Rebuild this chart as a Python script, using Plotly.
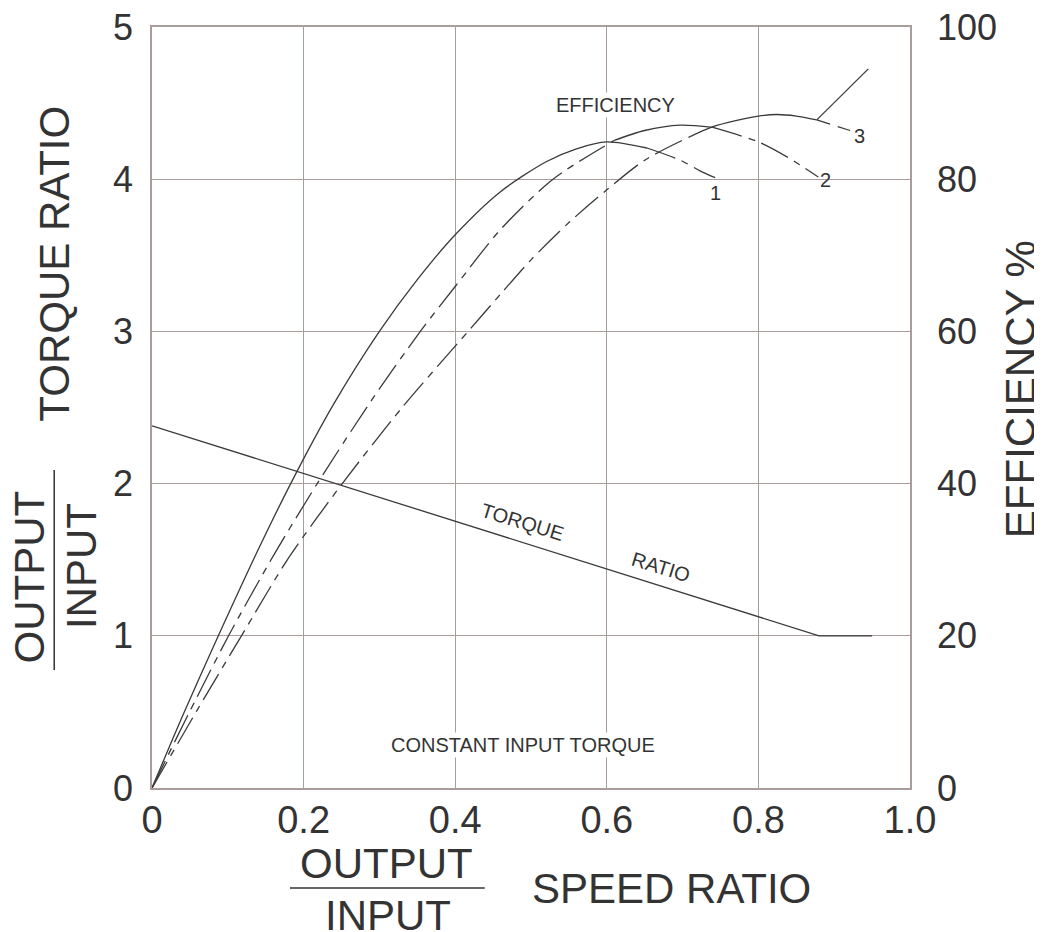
import plotly.graph_objects as go

# ---- data ----
speed_ticks = [0, 0.2, 0.4, 0.6, 0.8, 1.0]
speed_tick_text = ["0", "0.2", "0.4", "0.6", "0.8", "1.0"]
torque_ticks = [0, 1, 2, 3, 4, 5]
eff_ticks = [0, 20, 40, 60, 80, 100]

torque_x = [0, 0.88, 0.95]
torque_y = [2.38, 1.0, 1.0]

eff1_solid_x = [0, 0.04, 0.0875, 0.14, 0.183, 0.24, 0.30, 0.35, 0.40, 0.459, 0.52, 0.56, 0.60, 0.653]
eff1_solid_y = [0, 9.4, 20, 31.3, 40, 50.5, 60, 66.8, 72.7, 78.3, 82.3, 84.0, 84.9, 84.1]
eff1_dash_x = [0.653, 0.697, 0.723, 0.743]
eff1_dash_y = [84.1, 82.5, 81.1, 80.2]

eff2_dash_a_x = [0, 0.05, 0.101, 0.16, 0.218, 0.29, 0.354, 0.40, 0.459, 0.529, 0.61]
eff2_dash_a_y = [0, 10.1, 20, 30.5, 40, 51.0, 60, 65.9, 73.3, 80, 85.1]
eff2_solid_x = [0.61, 0.65, 0.697, 0.74]
eff2_solid_y = [85.1, 86.4, 87.1, 86.8]
eff2_dash_b_x = [0.74, 0.8, 0.84, 0.879]
eff2_dash_b_y = [86.8, 84.9, 82.8, 80.3]

eff3_dash_a_x = [0, 0.06, 0.118, 0.18, 0.251, 0.33, 0.417, 0.459, 0.5, 0.55, 0.6, 0.65, 0.71]
eff3_dash_a_y = [0, 10.3, 20, 30.2, 40, 50, 60, 64.8, 69.4, 74.3, 78.6, 82.5, 85.6]
eff3_solid_x = [0.71, 0.74, 0.77, 0.8, 0.824, 0.85, 0.877]
eff3_solid_y = [85.6, 86.9, 87.7, 88.3, 88.5, 88.3, 87.8]
eff3_dash_b_x = [0.877, 0.921]
eff3_dash_b_y = [87.8, 86.4]

coupling_x = [0.877, 0.945]
coupling_y = [87.8, 94.5]

# ---- style ----
LINE = "#3a3a3a"
GRID = "#a99d9b"
TXT = "#333333"
REG = "Liberation Sans, Arial, sans-serif"
DASH = "30px,7px,7px,7px"

fig = go.Figure()

fig.add_trace(go.Scatter(x=torque_x, y=torque_y, mode="lines",
                         line=dict(color=LINE, width=1.3), yaxis="y", showlegend=False))

def add_eff(x, y, dash):
    fig.add_trace(go.Scatter(x=x, y=y, mode="lines", yaxis="y2", showlegend=False,
                             line=dict(color=LINE, width=1.3, dash=dash, shape="spline", smoothing=0.8)))

add_eff(eff1_solid_x, eff1_solid_y, "solid")
add_eff(eff1_dash_x, eff1_dash_y, DASH)
add_eff(eff2_dash_a_x, eff2_dash_a_y, DASH)
add_eff(eff2_solid_x, eff2_solid_y, "solid")
add_eff(eff2_dash_b_x, eff2_dash_b_y, DASH)
add_eff(eff3_dash_a_x, eff3_dash_a_y, DASH)
add_eff(eff3_solid_x, eff3_solid_y, "solid")
add_eff(eff3_dash_b_x, eff3_dash_b_y, "14px,8px")
add_eff(coupling_x, coupling_y, "solid")

# in-chart labels
def lab(text, x, y, yref="y2", angle=0, bg="white", size=20):
    fig.add_annotation(text=text, x=x, y=y, xref="x", yref=yref, showarrow=False,
                       textangle=angle, bgcolor=bg, xanchor="center", yanchor="middle",
                       font=dict(family=REG, size=size, color=TXT))

lab("EFFICIENCY", 0.611, 89.7)
lab("1", 0.744, 78.2, bg="rgba(0,0,0,0)")
lab("2", 0.889, 79.9, bg="rgba(0,0,0,0)")
lab("3", 0.934, 85.7, bg="rgba(0,0,0,0)")
lab("CONSTANT INPUT TORQUE", 0.489, 0.28, yref="y")
lab("TORQUE", 0.489, 1.75, yref="y", angle=17, bg="rgba(0,0,0,0)")
lab("RATIO", 0.671, 1.45, yref="y", angle=17, bg="rgba(0,0,0,0)")

# axis titles as annotations
def title(text, x, y, angle=0, size=42):
    fig.add_annotation(text=text, x=x, y=y, xref="paper", yref="paper", showarrow=False,
                       textangle=angle, xanchor="center", yanchor="middle",
                       font=dict(family=REG, size=size, color=TXT))

title("TORQUE RATIO", -0.128, 0.689, angle=-90)
title("OUTPUT", -0.162, 0.277, angle=-90)
title("INPUT", -0.092, 0.292, angle=-90)
title("EFFICIENCY %", 1.145, 0.524, angle=-90)
title("OUTPUT", 0.310, -0.0986)
title("INPUT", 0.311, -0.168)
title("SPEED RATIO", 0.686, -0.1327)

fig.add_shape(type="line", xref="paper", yref="paper", x0=0.182, x1=0.439, y0=-0.1314, y1=-0.1314,
              line=dict(color=TXT, width=1.5))
fig.add_shape(type="line", xref="paper", yref="paper", x0=-0.129, x1=-0.129, y0=0.155, y1=0.418,
              line=dict(color=TXT, width=1.5))

fig.update_layout(
    width=1034, height=924,
    margin=dict(l=144, r=132, t=19, b=144),
    paper_bgcolor="white", plot_bgcolor="white",
    xaxis=dict(range=[0, 1.0], tickvals=speed_ticks, ticktext=speed_tick_text,
               showgrid=True, gridcolor=GRID, gridwidth=1.3, zeroline=False,
               showline=True, linecolor=GRID, linewidth=1.5, mirror=True,
               ticks="", ticklabelstandoff=-2, automargin=False, ticklabeloverflow="allow",
               tickfont=dict(family=REG, size=38, color=TXT)),
    yaxis=dict(range=[0, 5], tickvals=torque_ticks,
               showgrid=True, gridcolor=GRID, gridwidth=1.3, zeroline=False,
               showline=True, linecolor=GRID, linewidth=1.5, mirror=True,
               ticks="", ticklabelstandoff=10, automargin=False, ticklabeloverflow="allow",
               tickfont=dict(family=REG, size=36, color=TXT)),
    yaxis2=dict(range=[0, 100], tickvals=eff_ticks, overlaying="y", side="right",
                showgrid=False, zeroline=False, showline=False, ticks="",
                ticklabelstandoff=26, automargin=False, ticklabeloverflow="allow",
                tickfont=dict(family=REG, size=36, color=TXT)),
)

fig.write_html("out.html")
